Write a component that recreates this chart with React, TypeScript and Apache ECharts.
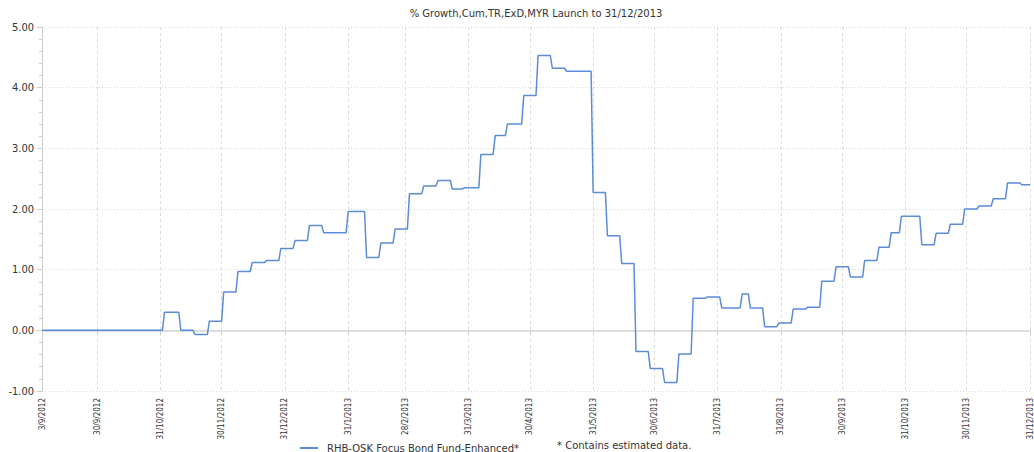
import React, { useEffect, useRef } from "react";
import * as echarts from "echarts";

const chartTitle = "% Growth,Cum,TR,ExD,MYR Launch to 31/12/2013";
const seriesName = "RHB-OSK Focus Bond Fund-Enhanced*";
const noteText = "* Contains estimated data.";

const tickLabels = [
  "3/9/2012", "30/9/2012", "31/10/2012", "30/11/2012", "31/12/2012",
  "31/1/2013", "28/2/2013", "31/3/2013", "30/4/2013", "31/5/2013",
  "30/6/2013", "31/7/2013", "31/8/2013", "30/9/2013", "31/10/2013",
  "30/11/2013", "31/12/2013",
];

// Dates at which the fund's value changes, and the level held from that date
const stepDates = [
  "3/9/2012", "2/11/2012", "10/11/2012", "17/11/2012", "24/11/2012",
  "1/12/2012", "8/12/2012", "15/12/2012", "22/12/2012", "29/12/2012",
  "5/1/2013", "12/1/2013", "19/1/2013", "31/1/2013", "9/2/2013",
  "16/2/2013", "23/2/2013", "2/3/2013", "9/3/2013", "16/3/2013",
  "23/3/2013", "29/3/2013", "6/4/2013", "13/4/2013", "19/4/2013",
  "27/4/2013", "4/5/2013", "11/5/2013", "18/5/2013", "31/5/2013",
  "7/6/2013", "14/6/2013", "21/6/2013", "28/6/2013", "5/7/2013",
  "12/7/2013", "19/7/2013", "26/7/2013", "2/8/2013", "12/8/2013",
  "16/8/2013", "23/8/2013", "30/8/2013", "6/9/2013", "13/9/2013",
  "20/9/2013", "27/9/2013", "4/10/2013", "11/10/2013", "18/10/2013",
  "24/10/2013", "29/10/2013", "8/11/2013", "15/11/2013", "22/11/2013",
  "29/11/2013", "6/12/2013", "13/12/2013", "20/12/2013", "27/12/2013",
];
const stepValues = [
  0.0, 0.3, 0.0, -0.07, 0.15,
  0.63, 0.97, 1.12, 1.15, 1.35,
  1.48, 1.73, 1.61, 1.96, 1.2,
  1.44, 1.67, 2.25, 2.38, 2.47,
  2.33, 2.35, 2.9, 3.21, 3.4,
  3.87, 4.53, 4.32, 4.27, 2.27,
  1.56, 1.1, -0.35, -0.63, -0.86,
  -0.39, 0.53, 0.55, 0.37, 0.6,
  0.37, 0.06, 0.12, 0.35, 0.38,
  0.81, 1.05, 0.88, 1.15, 1.37,
  1.61, 1.88, 1.41, 1.6, 1.75,
  2.0, 2.05, 2.17, 2.43, 2.4,
];

// Daily category axis from launch to the end date
function buildCategories(): string[] {
  const out: string[] = [];
  const start = Date.UTC(2012, 8, 3);
  const end = Date.UTC(2013, 11, 31);
  for (let t = start; t <= end; t += 86400000) {
    const d = new Date(t);
    out.push(`${d.getUTCDate()}/${d.getUTCMonth() + 1}/${d.getUTCFullYear()}`);
  }
  return out;
}
const categories = buildCategories();

function buildPoints(): [number, number][] {
  const pts: [number, number][] = [];
  const last = categories.length - 1;
  for (let i = 0; i < stepDates.length; i++) {
    const s = categories.indexOf(stepDates[i]);
    const e = i < stepDates.length - 1 ? categories.indexOf(stepDates[i + 1]) - 1 : last;
    pts.push([s, stepValues[i]]);
    if (e > s) pts.push([e, stepValues[i]]);
  }
  return pts;
}

export default function App() {
  const ref = useRef<HTMLDivElement>(null);
  useEffect(() => {
    if (!ref.current) return;
    const chart = echarts.init(ref.current, undefined, { renderer: "svg" });
    const labelSet = new Set(tickLabels);
    const isTick = (_i: number, v: string) => labelSet.has(v);
    chart.setOption({
      animation: false,
      backgroundColor: "#ffffff",
      grid: { left: 42, right: 4, top: 27, bottom: 61, containLabel: false },
      legend: {
        show: true,
        left: 295,
        top: 438,
        icon: "rect",
        itemWidth: 18,
        itemHeight: 2,
        textStyle: { fontSize: 10, color: "#333", fontFamily: "DejaVu Sans", padding: [0, 0, 0, 4] },
        data: [seriesName],
      },
      graphic: [
        {
          type: "text",
          x: 536,
          y: 8,
          style: {
            text: chartTitle,
            fontSize: 10,
            fill: "#333",
            fontFamily: "DejaVu Sans",
            textAlign: "center",
          },
        },
        {
          type: "text",
          x: 557,
          y: 440,
          style: { text: noteText, fontSize: 10, fill: "#333", fontFamily: "DejaVu Sans" },
        },
      ],
      xAxis: {
        type: "category",
        data: categories,
        boundaryGap: false,
        axisLine: { show: true, lineStyle: { color: "#cccccc", width: 1 } },
        axisTick: { show: true, interval: isTick, length: 4, lineStyle: { color: "#cccccc" } },
        axisLabel: {
          interval: isTick,
          rotate: 90,
          fontSize: 8,
          margin: 7,
          color: "#333",
          fontFamily: "DejaVu Sans Condensed",
        },
        splitLine: {
          show: true,
          interval: isTick,
          lineStyle: { color: "#dcdcdc", type: [3, 3], width: 1 },
        },
      },
      yAxis: {
        type: "value",
        min: -1,
        max: 5,
        interval: 1,
        axisLine: { show: true, lineStyle: { color: "#cccccc" } },
        axisTick: { show: true, length: 5, lineStyle: { color: "#cccccc" } },
        minorTick: { show: true, splitNumber: 5, length: 3, lineStyle: { color: "#cccccc" } },
        axisLabel: {
          fontSize: 11,
          color: "#333",
          margin: 8,
          fontFamily: "DejaVu Sans Condensed",
          formatter: (v: number) => v.toFixed(2),
        },
        splitLine: { show: true, lineStyle: { color: "#d8d8d8", type: [1, 2], width: 1 } },
      },
      series: [
        {
          name: seriesName,
          type: "line",
          data: buildPoints(),
          showSymbol: false,
          symbol: "none",
          lineStyle: { color: "#5b8bd9", width: 1.5 },
          itemStyle: { color: "#5b8bd9" },
          z: 3,
          markLine: {
            silent: true,
            symbol: "none",
            label: { show: false },
            lineStyle: { color: "#dddddd", type: "solid", width: 2 },
            data: [{ yAxis: 0 }],
            z: 1,
          },
        },
      ],
    });
    return () => chart.dispose();
  }, []);
  return (
    <div
      ref={ref}
      style={{ position: "fixed", left: 0, top: 0, width: 1034, height: 452 }}
    />
  );
}
